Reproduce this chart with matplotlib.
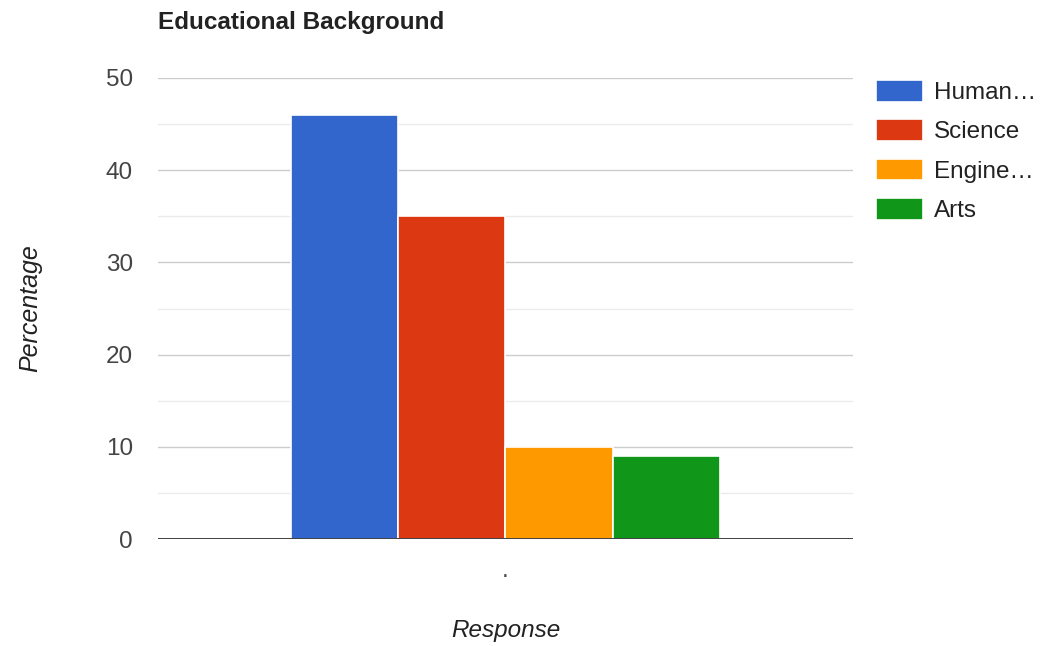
import numpy as np
import matplotlib
matplotlib.use('Agg')
import matplotlib.pyplot as plt

# datos
categorias = ['Human…', 'Science', 'Engine…', 'Arts']
valores = [46, 35, 10, 9]
colores = ['#3366CC', '#DC3912', '#FF9900', '#109618']
etiqueta_x = ['.']

plt.rcParams['font.family'] = ['Liberation Sans', 'DejaVu Sans']
fs = 17.5

fig = plt.figure(figsize=(10.44, 6.46), dpi=100)
ax = fig.add_axes([158/1044, 1-539/646, 695/1044, 461/646])

ancho = 107.5/695
desplaz = (np.arange(len(valores)) - 1.5) * ancho
for d, v, c, lab in zip(desplaz, valores, colores, categorias):
    ax.bar(d, v, width=ancho, color=c, edgecolor='white', linewidth=1.2, label=lab, zorder=3)

ax.set_xlim(-0.5, 0.5)
ax.set_ylim(0, 50)
ax.set_yticks([0, 10, 20, 30, 40, 50])
ax.set_yticks([5, 15, 25, 35, 45], minor=True)
ax.grid(axis='y', which='major', color='#cccccc', linewidth=1, zorder=0)
ax.grid(axis='y', which='minor', color='#ebebeb', linewidth=1, zorder=0)
ax.axhline(0, color='#333333', linewidth=1.3, zorder=4)
for s in ax.spines.values():
    s.set_visible(False)
ax.tick_params(axis='y', which='both', length=0, pad=18, labelsize=fs, labelcolor='#444444')
ax.set_xticks([0])
ax.set_xticklabels(etiqueta_x)
ax.tick_params(axis='x', length=0, pad=15, labelsize=fs, labelcolor='#444444')

fig.text(158/1044, 1-22/646, 'Educational Background', fontsize=17.5, fontweight='bold',
         color='#222222', ha='left', va='center')
fig.text(30/1044, 1-308/646, 'Percentage', fontsize=18, style='italic', color='#222222',
         rotation=90, ha='center', va='center')
fig.text(506/1044, 1-630/646, 'Response', fontsize=fs, style='italic', color='#222222',
         ha='center', va='center')

leg = ax.legend(loc='upper left', bbox_to_anchor=(876/1044, 1-80/646), bbox_transform=fig.transFigure,
                frameon=False, fontsize=fs, handlelength=1.95, handleheight=1.0,
                handletextpad=0.45, labelspacing=0.62, borderaxespad=0, borderpad=0)
for t in leg.get_texts():
    t.set_color('#222222')

fig.savefig('out.png', dpi=100)
